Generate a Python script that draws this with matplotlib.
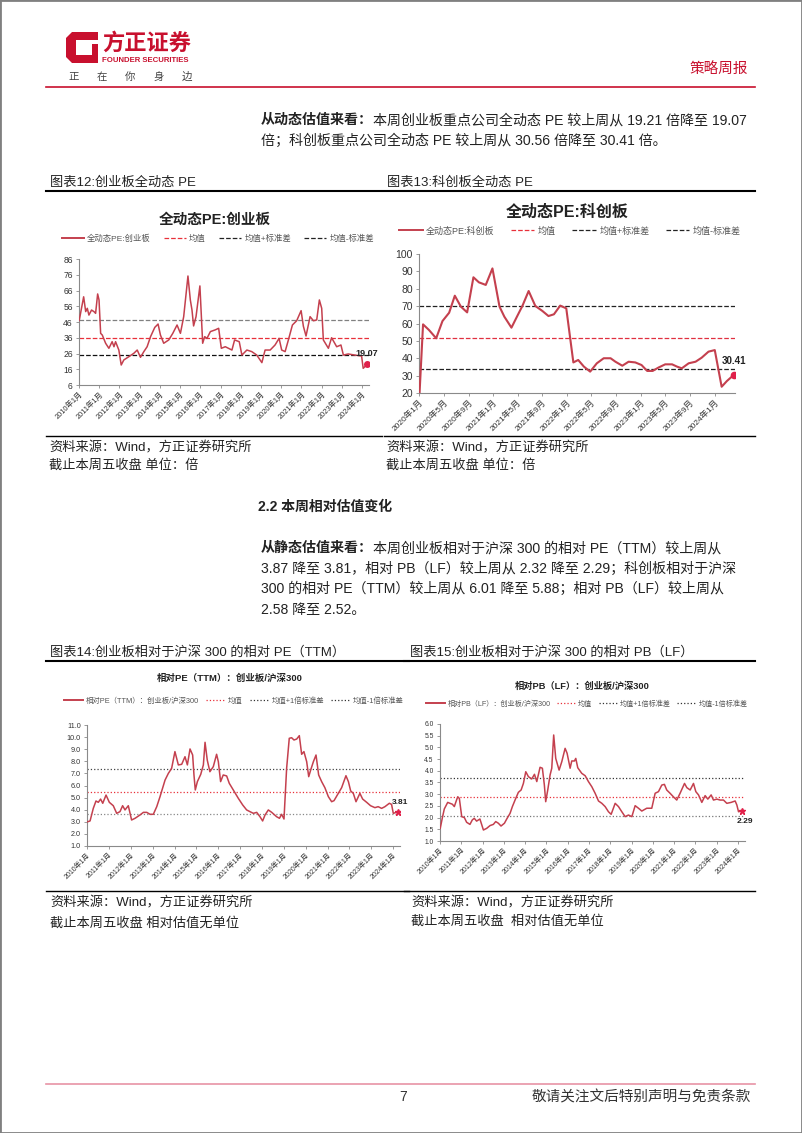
import matplotlib
matplotlib.use('Agg')
import matplotlib.pyplot as plt
import pandas as pd
from matplotlib.patches import Rectangle, Polygon
from matplotlib.lines import Line2D
from matplotlib.font_manager import FontProperties

# ---------------- data ----------------
cyb_pe_dates = ["2010-01-04", "2010-03-25", "2010-05-01", "2010-05-30", "2010-06-28", "2010-08-15", "2010-09-27",
                "2010-10-27", "2010-12-03", "2010-12-28", "2011-01-26", "2011-02-25", "2011-04-26", "2011-06-24",
                "2011-08-22", "2011-09-24", "2011-10-23", "2011-12-21", "2012-02-02", "2012-03-20", "2012-06-20",
                "2012-09-16", "2012-11-17", "2013-01-15", "2013-03-17", "2013-05-15", "2013-07-16", "2013-10-01",
                "2013-11-29", "2014-01-11", "2014-03-11", "2014-06-10", "2014-08-22", "2014-11-07", "2015-01-07",
                "2015-03-07", "2015-05-23", "2015-07-05", "2015-08-04", "2015-09-02", "2015-10-16", "2015-12-25",
                "2016-02-13", "2016-03-21", "2016-05-01", "2016-07-01", "2016-09-27", "2016-11-28", "2017-01-15",
                "2017-03-28", "2017-07-26", "2017-09-12", "2017-12-05", "2018-01-22", "2018-04-22", "2018-07-19",
                "2018-10-18", "2019-01-18", "2019-03-17", "2019-06-17", "2019-09-13", "2019-11-25", "2020-01-11",
                "2020-03-13", "2020-05-11", "2020-07-23", "2020-10-08", "2020-12-27", "2021-02-06", "2021-03-26",
                "2021-06-07", "2021-08-07", "2021-10-05", "2021-11-22", "2022-01-03", "2022-02-02", "2022-05-04",
                "2022-07-01", "2022-10-01", "2022-12-17", "2023-01-30", "2023-04-28", "2023-08-26", "2023-12-25",
                "2024-01-23", "2024-04-05"]
cyb_pe_values = [47, 62, 52.6, 54.7, 50.4, 53.6, 52.6, 51.5, 63.8, 60, 38.8, 37.7, 32.5, 29.3, 33.5, 30.3, 33.5, 28.2,
                 18.7, 21.9, 24, 26.1, 28.2, 23.6, 27.2, 30.3, 36.7, 42.6, 44.7, 37.7, 32.5, 34.6, 38.8, 44.1, 38.8,
                 49.4, 75.2, 60, 53.6, 43.5, 49.4, 68.9, 32.5, 36.7, 35.6, 39.9, 41, 42, 29.3, 30.3, 28.2, 34.6, 33.5,
                 25, 28.2, 27.2, 25, 20.2, 28.2, 28.2, 31.4, 35.6, 28.2, 27.2, 34.6, 44.1, 46.8, 53.2, 43.3, 37.1,
                 49.4, 46.8, 47.3, 60, 54.7, 34.6, 29.3, 36, 30.3, 31.4, 25, 25.7, 25, 24.4, 16.6, 19.07]
cyb_pe_mean, cyb_pe_up, cyb_pe_dn = 36.0, 47.3, 24.9

kcb_pe_dates = ["2020-01-03", "2020-01-20", "2020-02-18", "2020-03-25", "2020-04-25", "2020-05-28", "2020-06-25",
                "2020-07-25", "2020-08-25", "2020-09-25", "2020-10-22", "2020-11-25", "2020-12-28", "2021-02-01",
                "2021-02-25", "2021-04-01", "2021-04-28", "2021-05-25", "2021-06-25", "2021-07-28", "2021-09-01",
                "2021-10-01", "2021-10-28", "2021-11-28", "2021-12-28", "2022-02-01", "2022-02-25", "2022-03-25",
                "2022-04-25", "2022-05-28", "2022-07-01", "2022-08-04", "2022-08-28", "2022-10-01", "2022-11-01",
                "2022-12-04", "2023-01-04", "2023-02-01", "2023-02-28", "2023-03-28", "2023-05-01", "2023-06-04",
                "2023-06-28", "2023-07-22", "2023-08-25", "2023-09-28", "2023-10-28", "2023-12-01", "2024-01-01",
                "2024-02-04", "2024-03-01", "2024-04-04"]
kcb_pe_values = [20.5, 59.5, 56.3, 51.5, 61.4, 66.2, 76, 69.7, 66.4, 86.6, 83.7, 82.2, 91.7, 69.7, 63.9, 57.6, 63.9,
                 70.1, 78.7, 70.1, 67.2, 64.3, 65.3, 70.3, 68.7, 37.6, 39, 35.2, 32.3, 37.1, 40, 40, 38, 35.7, 38,
                 37.6, 36.1, 32.7, 32.7, 34.6, 36.5, 36.5, 35.2, 34.2, 37.1, 38, 40.3, 43.8, 44.7, 23.6, 26.9, 30.41]
kcb_pe_mean, kcb_pe_up, kcb_pe_dn = 51.8, 70.2, 33.8

rel_pe_dates = ["2010-01-08", "2010-02-20", "2010-04-15", "2010-05-30", "2010-07-08", "2010-08-15", "2010-09-20",
                "2010-11-14", "2011-01-08", "2011-03-15", "2011-05-11", "2011-07-05", "2011-08-18", "2011-09-27",
                "2011-11-21", "2012-01-15", "2012-03-13", "2012-06-02", "2012-07-30", "2012-09-24", "2012-11-18",
                "2013-01-12", "2013-03-10", "2013-05-04", "2013-07-27", "2013-09-20", "2013-11-14", "2014-01-08",
                "2014-03-06", "2014-05-01", "2014-06-25", "2014-08-04", "2014-09-17", "2014-10-31", "2014-11-22",
                "2014-12-14", "2015-01-18", "2015-03-15", "2015-04-28", "2015-05-26", "2015-07-02", "2015-08-15",
                "2015-10-11", "2015-12-05", "2016-01-03", "2016-02-10", "2016-03-25", "2016-05-21", "2016-07-04",
                "2016-09-09", "2016-12-02", "2017-02-13", "2017-04-20", "2017-06-14", "2017-08-10", "2017-10-05",
                "2017-11-29", "2018-01-12", "2018-02-21", "2018-04-17", "2018-06-13", "2018-09-03", "2018-10-20",
                "2018-11-25", "2019-01-04", "2019-02-17", "2019-04-02", "2019-05-11", "2019-06-20", "2019-08-04",
                "2019-09-17", "2019-10-26", "2019-12-03", "2020-01-18", "2020-02-21", "2020-03-25", "2020-05-09",
                "2020-06-22", "2020-08-05", "2020-09-24", "2020-11-17", "2021-01-14", "2021-03-10", "2021-04-19",
                "2021-06-29", "2021-08-24", "2021-11-04", "2021-12-15", "2022-01-22", "2022-03-07", "2022-04-21",
                "2022-06-25", "2022-08-10", "2022-10-16", "2022-12-20", "2023-03-03", "2023-04-26", "2023-06-23",
                "2023-08-17", "2023-10-30", "2023-12-06", "2024-01-04", "2024-03-15"]
rel_pe_values = [3.0, 3.07, 4.11, 4.72, 4.61, 4.88, 4.53, 5.21, 4.61, 4.33, 3.7, 3.84, 4.33, 3.98, 4.33, 3.15, 3.29,
                 3.56, 3.78, 3.78, 3.62, 3.62, 4.25, 5.08, 6.45, 7.0, 7.42, 8.8, 7.7, 7.75, 8.38, 7.7, 9.02, 8.52,
                 6.87, 5.63, 6.32, 6.92, 7.7, 9.57, 8.1, 7.14, 7.56, 8.58, 7.97, 6.32, 6.87, 6.79, 6.18, 5.63, 4.94,
                 4.39, 3.98, 3.84, 3.7, 3.78, 3.42, 3.07, 3.56, 3.98, 3.78, 3.42, 3.29, 3.62, 3.23, 7.42, 9.9, 9.95,
                 9.76, 9.84, 10.12, 8.58, 8.8, 7.97, 6.73, 7.28, 7.97, 8.52, 6.87, 6.32, 5.82, 5.08, 4.66, 4.75, 5.35,
                 5.82, 6.81, 6.32, 5.55, 5.35, 4.66, 5.35, 4.88, 4.61, 4.33, 4.17, 4.25, 4.11, 4.25, 4.53, 4.44, 3.7,
                 3.81]
rel_pe_mean, rel_pe_up, rel_pe_dn = 5.47, 7.35, 3.62

rel_pb_dates = ["2010-01-04", "2010-02-10", "2010-03-15", "2010-05-12", "2010-06-21", "2010-08-01", "2010-09-03",
                "2010-09-27", "2010-10-31", "2010-11-28", "2011-01-08", "2011-02-22", "2011-04-02", "2011-05-29",
                "2011-07-08", "2011-08-11", "2011-09-20", "2011-11-16", "2012-01-15", "2012-03-11", "2012-05-08",
                "2012-07-04", "2012-08-13", "2012-09-27", "2012-11-12", "2013-01-10", "2013-02-18", "2013-04-16",
                "2013-05-26", "2013-07-11", "2013-09-06", "2013-10-23", "2013-12-01", "2014-01-11", "2014-02-25",
                "2014-04-23", "2014-06-09", "2014-07-19", "2014-09-13", "2014-10-23", "2014-11-26", "2014-12-19",
                "2015-01-23", "2015-03-04", "2015-04-02", "2015-05-05", "2015-06-09", "2015-08-06", "2015-09-21",
                "2015-11-17", "2015-12-21", "2016-02-11", "2016-03-10", "2016-04-25", "2016-05-18", "2016-06-21",
                "2016-08-29", "2016-10-26", "2016-12-21", "2017-02-17", "2017-04-15", "2017-06-12", "2017-08-08",
                "2017-10-04", "2017-11-30", "2018-01-15", "2018-03-25", "2018-05-21", "2018-07-17", "2018-09-12",
                "2018-11-08", "2019-01-05", "2019-03-03", "2019-04-29", "2019-06-25", "2019-09-18", "2019-12-13",
                "2020-02-09", "2020-04-06", "2020-06-02", "2020-07-17", "2020-08-26", "2020-10-22", "2020-12-18",
                "2021-02-14", "2021-04-12", "2021-06-27", "2021-08-06", "2021-10-02", "2021-11-28", "2022-01-07",
                "2022-02-22", "2022-04-20", "2022-06-16", "2022-08-01", "2022-09-27", "2022-11-06", "2023-01-03",
                "2023-02-28", "2023-04-27", "2023-06-23", "2023-09-05", "2023-11-13", "2023-12-12", "2024-01-10",
                "2024-03-10"]
rel_pb_values = [1.54, 2.0, 2.37, 2.65, 2.61, 2.57, 2.47, 2.65, 2.89, 2.82, 2.04, 2.0, 1.8, 1.71, 1.9, 1.97, 1.85,
                 1.94, 1.47, 1.54, 1.66, 1.71, 1.83, 1.76, 1.64, 1.76, 1.94, 2.18, 2.47, 2.75, 3.08, 3.18, 3.46, 3.96,
                 3.75, 3.65, 3.85, 3.54, 4.15, 4.11, 3.39, 2.68, 3.18, 3.82, 4.11, 5.53, 4.53, 4.03, 4.39, 4.96, 4.75,
                 4.11, 4.42, 4.42, 4.53, 4.13, 3.89, 3.79, 3.54, 3.32, 3.04, 2.71, 2.61, 2.47, 2.25, 2.14, 2.61, 2.47,
                 2.25, 2.04, 2.11, 2.04, 2.51, 2.4, 2.28, 2.4, 2.4, 3.04, 3.11, 3.39, 3.42, 3.18, 3.04, 2.89, 2.75,
                 3.04, 3.46, 3.28, 3.18, 3.46, 3.11, 2.97, 2.65, 2.94, 2.79, 2.97, 2.75, 2.79, 2.75, 2.75, 2.61, 2.65,
                 2.71, 2.54, 2.25, 2.29]
rel_pb_mean, rel_pb_up, rel_pb_dn = 2.87, 3.69, 2.05

yticks_cyb = [6, 16, 26, 36, 46, 56, 66, 76, 86]
yticks_kcb = [20, 30, 40, 50, 60, 70, 80, 90, 100]
yticks_rpe = [1.0, 2.0, 3.0, 4.0, 5.0, 6.0, 7.0, 8.0, 9.0, 10.0, 11.0]
yticks_rpb = [1.0, 1.5, 2.0, 2.5, 3.0, 3.5, 4.0, 4.5, 5.0, 5.5, 6.0]

# ---------------- page setup ----------------
W, H = 802, 1133
fig = plt.figure(figsize=(W / 100, H / 100), dpi=100)
fig.patch.set_facecolor('white')

CJK = ['Noto Sans CJK SC', 'DejaVu Sans']
MIX = ['Liberation Sans', 'Noto Sans CJK SC', 'DejaVu Sans']
RED = '#C8102E'
SERIES = '#C4404E'


def fx(x):
    return x / W


def fy(y):
    return 1 - y / H


def txt(x, y, s, size, **kw):
    kw.setdefault('family', MIX)
    kw.setdefault('va', 'center')
    kw.setdefault('color', '#222222')
    return fig.text(fx(x), fy(y), s, fontsize=size, **kw)


def hline(x0, x1, y, color='black', lw=1.0):
    fig.add_artist(Line2D([fx(x0), fx(x1)], [fy(y), fy(y)], color=color, lw=lw,
                          transform=fig.transFigure))


renderer = fig.canvas.get_renderer()


def mixed_line(x, y, bold_part, rest, size):
    t = txt(x, y, bold_part, size, weight='bold')
    bb = t.get_window_extent(renderer=renderer)
    txt(bb.x1, y, rest, size)


# page frame
fig.add_artist(Rectangle((0, 0), 1, 1, transform=fig.transFigure, fill=False, ec='#808080', lw=2))

# logo
logo_outer = [(66, 38), (72, 32), (98, 32), (98, 40), (76, 40), (76, 55), (92, 55), (92, 44), (98, 44),
              (98, 63), (72, 63), (66, 57)]
fig.add_artist(Polygon([(fx(a), fy(b)) for a, b in logo_outer], closed=True, transform=fig.transFigure,
                       fc=RED, ec='none'))
txt(102, 43, '方正证券', 16, weight='bold', color=RED, family=CJK)
txt(102, 60, 'FOUNDER SECURITIES', 5.6, weight='bold', color=RED,
    family=['Liberation Sans Narrow', 'Liberation Sans'])
for i, ch in enumerate('正在你身边'):
    txt(68 + i * 28.5, 77, ch, 7.5, color='#444444', family=CJK)
txt(748, 70, '策略周报', 10.5, color=RED, ha='right', family=CJK)
hline(46, 755, 87, color=RED, lw=1.2)

# paragraph 1
mixed_line(261, 120, '从动态估值来看：', '本周创业板重点公司全动态 PE 较上周从 19.21 倍降至 19.07', 10.1)
txt(261, 141, '倍；科创板重点公司全动态 PE 较上周从 30.56 倍降至 30.41 倍。', 10.1)

# captions
txt(50, 183, '图表12:创业板全动态 PE', 9.5)
txt(387, 183, '图表13:科创板全动态 PE', 9.5)
hline(46, 381, 191, lw=1.5)
hline(383, 755, 191, lw=1.5)

txt(50, 652, '图表14:创业板相对于沪深 300 的相对 PE（TTM）', 9.5)
txt(410, 652, '图表15:创业板相对于沪深 300 的相对 PB（LF）', 9.5)
hline(46, 409, 661, lw=1.5)
hline(404, 755, 661, lw=1.5)

# sources
hline(46, 382, 436, lw=1.0)
hline(384, 755, 436, lw=1.0)
txt(49, 448, '资料来源：Wind，方正证券研究所', 9.5)
txt(49, 465, '截止本周五收盘 单位：倍', 9.5)
txt(386, 448, '资料来源：Wind，方正证券研究所', 9.5)
txt(386, 465, '截止本周五收盘 单位：倍', 9.5)

hline(46, 409, 891, lw=1.0)
hline(404, 755, 891, lw=1.0)
txt(50, 903, '资料来源：Wind，方正证券研究所', 9.5)
txt(50, 923, '截止本周五收盘 相对估值无单位', 9.5)
txt(411, 903, '资料来源：Wind，方正证券研究所', 9.5)
txt(411, 921, '截止本周五收盘  相对估值无单位', 9.5)

# section 2.2
txt(258, 507, '2.2 本周相对估值变化', 10, weight='bold')
mixed_line(261, 548, '从静态估值来看：', '本周创业板相对于沪深 300 的相对 PE（TTM）较上周从', 10.1)
txt(261, 569, '3.87 降至 3.81，相对 PB（LF）较上周从 2.32 降至 2.29；科创板相对于沪深', 10.1)
txt(261, 589, '300 的相对 PE（TTM）较上周从 6.01 降至 5.88；相对 PB（LF）较上周从', 10.1)
txt(261, 610, '2.58 降至 2.52。', 10.1)

# footer
hline(46, 755, 1084, color='#E893A5', lw=1.2)
txt(403, 1097, '7', 10, ha='center', color='#333333')
txt(751, 1097, '敬请关注文后特别声明与免责条款', 10.5, ha='right', color='#333333', family=CJK)


# ---------------- charts ----------------
def make_ax(l, t, r, b):
    return fig.add_axes([l / W, 1 - b / H, (r - l) / W, (b - t) / H])


def draw_chart(box, dates, values, mean, up, dn, yticks, yfmt, tick_dates, xright, ysize, xsize,
               lw, ls, colors, spine, marker, msize, label, lab_off, lab_size):
    ax = make_ax(*box)
    d = pd.to_datetime(dates)
    ax.plot(d, values, color=SERIES, lw=lw, zorder=3)
    ax.axhline(mean, color=colors[0], ls=ls, lw=0.9, zorder=2)
    ax.axhline(up, color=colors[1], ls=ls, lw=0.9, zorder=2)
    ax.axhline(dn, color=colors[2], ls=ls, lw=0.9, zorder=2)
    ax.plot([d[-1]], [values[-1]], marker=marker, color='#E0204A', ms=msize, zorder=4, ls='none')
    ax.annotate(label, (d[-1], values[-1]), xytext=lab_off, textcoords='offset points',
                ha='center', va='center', fontsize=lab_size, weight='bold', color='#222222',
                family=['Liberation Sans'], zorder=5)
    ax.set_ylim(yticks[0], yticks[-1])
    ax.set_yticks(yticks)
    ax.set_yticklabels([yfmt.format(v) for v in yticks], family=MIX)
    ax.set_xlim(pd.Timestamp(tick_dates[0]) - pd.Timedelta(days=1), pd.Timestamp(xright))
    ax.set_xticks(tick_dates)
    ax.set_xticklabels([f"{t.year}年{t.month}月" for t in tick_dates], rotation=45, ha='right',
                       rotation_mode='anchor', family=MIX)
    for s in ['top', 'right']:
        ax.spines[s].set_visible(False)
    for s in ['left', 'bottom']:
        ax.spines[s].set_color(spine)
        ax.spines[s].set_linewidth(0.8)
    ax.tick_params(axis='both', colors=spine, length=2.5, width=0.6, labelcolor='#333333')
    ax.tick_params(axis='y', labelsize=ysize, pad=2)
    ax.tick_params(axis='x', labelsize=xsize, pad=1.5)
    ax.patch.set_alpha(0)
    return ax


def draw_legend(cx, cy, labels, ls, colors, size, hl, cs):
    handles = [Line2D([], [], color=SERIES, lw=1.4)] + [Line2D([], [], color=c, ls=ls, lw=0.9) for c in colors]
    leg = fig.legend(handles, labels, loc='center', bbox_to_anchor=(fx(cx), fy(cy)), ncol=4, frameon=False,
                     prop=FontProperties(family=MIX, size=size), handlelength=hl, handletextpad=0.4,
                     columnspacing=cs, borderaxespad=0, borderpad=0)
    for t in leg.get_texts():
        t.set_color('#555555')


ticks_cyb = list(pd.date_range('2010-01-01', '2024-01-01', freq='YS'))
ticks_kcb = list(pd.date_range('2020-01-01', '2024-01-01', freq='4MS'))

# chart 12
txt(215, 220, '全动态PE:创业板', 10.5, weight='bold', ha='center')
draw_legend(218, 239, ['全动态PE:创业板', '均值', '均值+标准差', '均值-标准差'], '--',
            ['#E8303A', '#222222', '#222222'], 6, 2.6, 1.6)
draw_chart((79, 259, 369, 385), cyb_pe_dates, cyb_pe_values, cyb_pe_mean, cyb_pe_up, cyb_pe_dn,
           yticks_cyb, '{:.0f}', ticks_cyb, '2024-05-07', 6.2, 5.3, 1.1, '--',
           ['#E8303A', '#808080', '#111111'], '#8A8A8A', 'o', 4, '19.07', (0, 8), 6.5)

# chart 13
txt(567, 212, '全动态PE:科创板', 11.5, weight='bold', ha='center')
draw_legend(570, 231, ['全动态PE:科创板', '均值', '均值+标准差', '均值-标准差'], '--',
            ['#E8303A', '#222222', '#222222'], 6.5, 2.6, 1.8)
draw_chart((419, 254, 735, 393), kcb_pe_dates, kcb_pe_values, kcb_pe_mean, kcb_pe_up, kcb_pe_dn,
           yticks_kcb, '{:.0f}', ticks_kcb, '2024-04-10', 7.5, 6, 1.5, '--',
           ['#E03040', '#222222', '#222222'], '#8A8A8A', 'o', 4.5, '30.41', (0, 10), 7)

# chart 14
txt(230, 678, '相对PE（TTM）：创业板/沪深300', 6.8, weight='bold', ha='center')
draw_legend(234, 701, ['相对PE（TTM）：创业板/沪深300', '均值', '均值+1倍标准差', '均值-1倍标准差'], ':',
            ['#E8303A', '#333333', '#333333'], 5.3, 2.6, 0.9)
draw_chart((87, 725, 400, 846), rel_pe_dates, rel_pe_values, rel_pe_mean, rel_pe_up, rel_pe_dn,
           yticks_rpe, '{:.1f}', ticks_cyb, '2024-04-25', 5.2, 5, 1.1, ':',
           ['#E8303A', '#444444', '#888888'], '#8A8A8A', '*', 5, '3.81', (2, 7), 6)

# chart 15
txt(582, 686, '相对PB（LF）：创业板/沪深300', 6.7, weight='bold', ha='center')
draw_legend(587, 704, ['相对PB（LF）：创业板/沪深300', '均值', '均值+1倍标准差', '均值-1倍标准差'], ':',
            ['#E8303A', '#333333', '#333333'], 5.1, 2.6, 0.9)
draw_chart((440, 724, 745, 841), rel_pb_dates, rel_pb_values, rel_pb_mean, rel_pb_up, rel_pb_dn,
           yticks_rpb, '{:.1f}', ticks_cyb, '2024-04-30', 4.8, 5, 1.1, ':',
           ['#E8303A', '#333333', '#777777'], '#8A8A8A', '*', 5, '2.29', (2, -8), 6)

fig.savefig('out.png', dpi=100)
